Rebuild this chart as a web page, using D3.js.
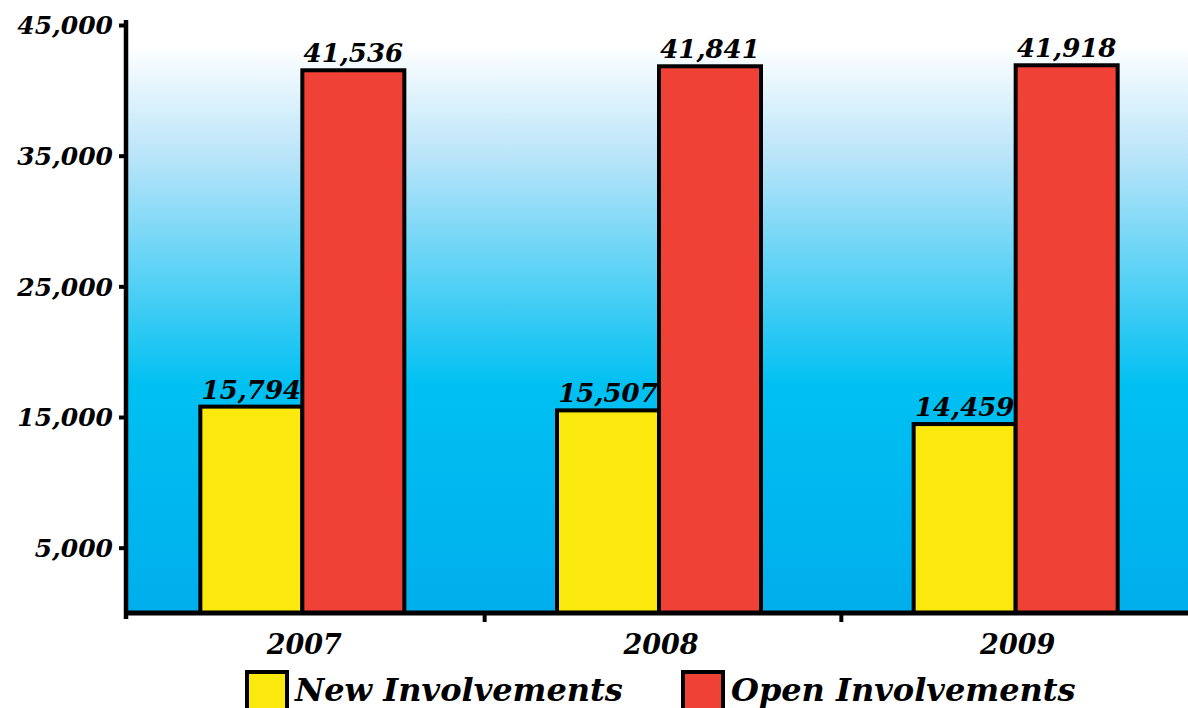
<!DOCTYPE html>
<html>
<head>
<meta charset="utf-8">
<script src="https://cdn.jsdelivr.net/npm/d3@7"></script>
<style>
  body { margin: 0; background: #fff; }
  svg { display: block; }
  text { font-family: "DejaVu Serif", serif; font-weight: bold; font-style: italic; fill: #000; }
</style>
</head>
<body>
<svg width="1188" height="708"></svg>
<script>
// data
var years = ["2007", "2008", "2009"];
var newInvolvements = [15794, 15507, 14459];
var openInvolvements = [41536, 41841, 41918];
var seriesNames = ["New Involvements", "Open Involvements"];
var seriesColors = ["#fbe80c", "#ef4136"];
var yTicks = [5000, 15000, 25000, 35000, 45000];

var svg = d3.select("svg");
var plotLeft = 126, plotRight = 1196, plotTop = 25, plotBottom = 613;

var x = d3.scaleBand().domain(years).range([plotLeft, plotRight]);
var y = d3.scaleLinear().domain([0, 45000]).range([plotBottom, plotTop]);

// background gradient
var defs = svg.append("defs");
var grad = defs.append("linearGradient").attr("id", "bg")
  .attr("x1", 0).attr("y1", 0).attr("x2", 0).attr("y2", 1);
grad.append("stop").attr("offset", "0%").attr("stop-color", "#ffffff");
grad.append("stop").attr("offset", "20%").attr("stop-color", "#b8e4f9");
grad.append("stop").attr("offset", "60%").attr("stop-color", "#00c0f2");
grad.append("stop").attr("offset", "100%").attr("stop-color", "#00aeec");

svg.append("rect")
  .attr("x", plotLeft).attr("y", 45)
  .attr("width", 1188 - plotLeft).attr("height", plotBottom - 45)
  .attr("fill", "url(#bg)");

// bars
var rows = years.map(function(yr, i) {
  return { year: yr, values: [newInvolvements[i], openInvolvements[i]] };
});
var barW = 102;

var groups = svg.selectAll("g.yr")
  .data(rows)
  .enter().append("g")
  .attr("class", "yr");

function cells(d) {
  return d.values.map(function(v, k) { return { year: d.year, v: v, k: k }; });
}

groups.selectAll("rect")
  .data(cells)
  .enter().append("rect")
  .attr("x", function(d) { return x(d.year) + x.bandwidth() / 2 - barW + d.k * barW - 2; })
  .attr("y", function(d) { return y(d.v); })
  .attr("width", barW)
  .attr("height", function(d) { return plotBottom - y(d.v); })
  .attr("fill", function(d) { return seriesColors[d.k]; })
  .attr("stroke", "#000")
  .attr("stroke-width", 4);

groups.selectAll("text")
  .data(cells)
  .enter().append("text")
  .attr("x", function(d) { return x(d.year) + x.bandwidth() / 2 - barW / 2 + d.k * barW - 2; })
  .attr("y", function(d) { return y(d.v) - 8; })
  .attr("text-anchor", "middle")
  .attr("font-size", 26)
  .text(function(d) { return d3.format(",")(d.v); });

// y axis
var yAxis = svg.append("g")
  .attr("transform", "translate(" + plotLeft + ",0)")
  .call(d3.axisLeft(y).tickValues(yTicks).tickSize(7).tickPadding(6).tickFormat(d3.format(",")));
yAxis.select(".domain").attr("d", "M0," + (plotTop - 5) + "V" + (plotBottom + 6))
  .attr("stroke", "#000").attr("stroke-width", 4.5);
yAxis.selectAll(".tick line").attr("stroke", "#000").attr("stroke-width", 4);
yAxis.selectAll(".tick text").attr("font-size", 25).attr("dy", "0.35em")
  .style("font-family", "DejaVu Serif").style("font-weight", "bold").style("font-style", "italic");

// x axis
var xAxis = svg.append("g")
  .attr("transform", "translate(0," + plotBottom + ")")
  .call(d3.axisBottom(x).tickSize(0).tickPadding(22));
xAxis.select(".domain").attr("d", "M" + plotLeft + ",0H1188")
  .attr("stroke", "#000").attr("stroke-width", 5);
xAxis.selectAll(".tick text").attr("font-size", 27)
  .style("font-family", "DejaVu Serif").style("font-weight", "bold").style("font-style", "italic");

// category separators
svg.selectAll("line.sep")
  .data(years.slice(1))
  .enter().append("line")
  .attr("x1", function(d) { return x(d) + 2; })
  .attr("x2", function(d) { return x(d) + 2; })
  .attr("y1", plotBottom).attr("y2", plotBottom + 9)
  .attr("stroke", "#000").attr("stroke-width", 4);

// legend
var legendX = [247, 683];
var legend = svg.selectAll("g.leg")
  .data(seriesNames)
  .enter().append("g")
  .attr("transform", function(d, i) { return "translate(" + legendX[i] + ",672)"; });
legend.append("rect")
  .attr("width", 40).attr("height", 40)
  .attr("fill", function(d, i) { return seriesColors[i]; })
  .attr("stroke", "#000").attr("stroke-width", 4);
legend.append("text")
  .attr("x", 48).attr("y", 29)
  .attr("font-size", 32)
  .text(function(d) { return d; });
</script>
</body>
</html>
